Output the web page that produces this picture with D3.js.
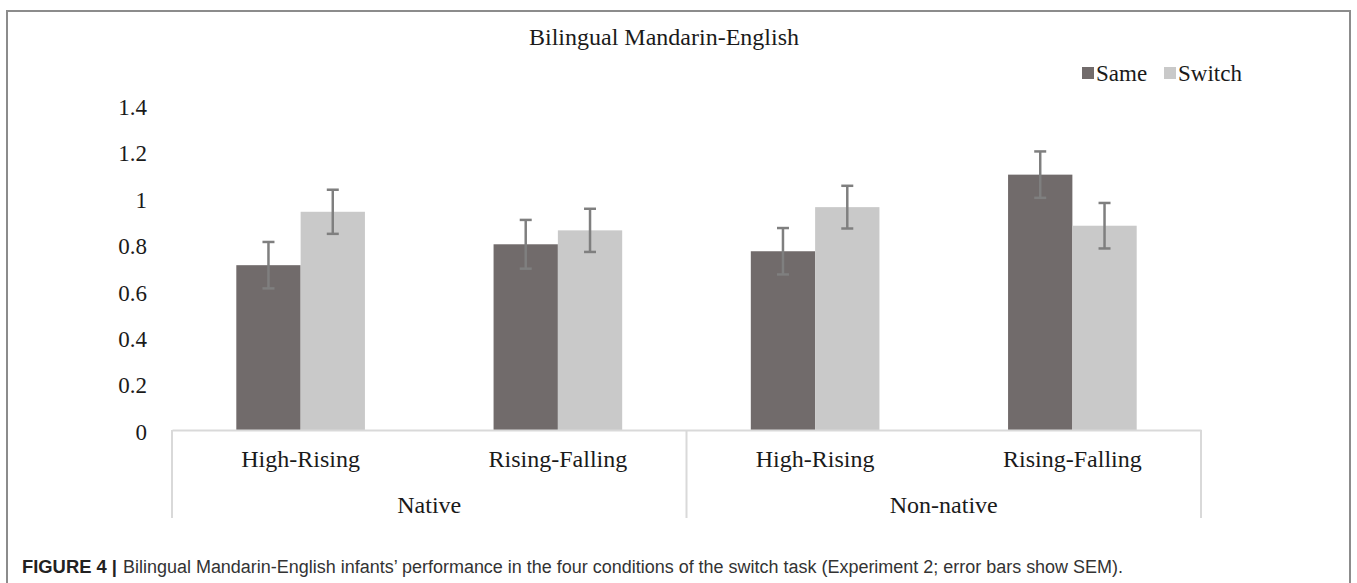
<!DOCTYPE html>
<html>
<head>
<meta charset="utf-8">
<script src="https://cdn.jsdelivr.net/npm/d3@7"></script>
<style>
  body { margin: 0; background: #fff; }
  svg { display: block; }
</style>
</head>
<body>
<div id="chart"></div>
<script>
// values
var groups = ["Native", "Non-native"];
var categories = ["High-Rising", "Rising-Falling", "High-Rising", "Rising-Falling"];
var series = ["Same", "Switch"];
var sameValues = [0.71, 0.80, 0.77, 1.10];
var switchValues = [0.94, 0.86, 0.96, 0.88];
var sameSem = [0.10, 0.105, 0.10, 0.10];
var switchSem = [0.095, 0.093, 0.092, 0.098];
var yTicks = [0, 0.2, 0.4, 0.6, 0.8, 1, 1.2, 1.4];

var width = 1357, height = 583;
var plot = { left: 172, right: 1201, top: 105, bottom: 430 };
var fillColors = ["#716b6b", "#c9c9c9"];
var serif = "'Liberation Serif', 'Times New Roman', serif";

var svg = d3.select("#chart").append("svg")
  .attr("width", width)
  .attr("height", height);

// outer frame (continues past the bottom edge)
svg.append("rect")
  .attr("x", 7).attr("y", 11)
  .attr("width", 1343).attr("height", 620)
  .attr("fill", "none")
  .attr("stroke", "#8c8c8c")
  .attr("stroke-width", 2);

var x0Scale = d3.scaleBand()
  .domain(d3.range(categories.length))
  .range([plot.left, plot.right])
  .paddingInner(0.5)
  .paddingOuter(0.25);

var x1Scale = d3.scaleBand()
  .domain(series)
  .range([0, x0Scale.bandwidth()]);

var groupScale = d3.scaleBand()
  .domain(groups)
  .range([plot.left, plot.right]);

var yScale = d3.scaleLinear()
  .domain([0, 1.4])
  .range([plot.bottom, plot.top]);

var color = d3.scaleOrdinal().domain(series).range(fillColors);

// title
svg.append("text")
  .attr("x", 664).attr("y", 37)
  .attr("dy", "0.35em")
  .attr("text-anchor", "middle")
  .style("font-family", serif)
  .style("font-size", "24px")
  .attr("fill", "#1a1a1a")
  .text("Bilingual Mandarin-English");

// y axis: labels only
var yAxis = d3.axisLeft(yScale)
  .tickValues(yTicks)
  .tickSize(0)
  .tickPadding(0)
  .tickFormat(function(d) { return d3.format("")(+d.toFixed(1)); });

var yG = svg.append("g")
  .attr("transform", "translate(147,2)")
  .call(yAxis);
yG.select(".domain").remove();
yG.selectAll("text")
  .style("font-family", serif)
  .style("font-size", "23px")
  .attr("fill", "#1a1a1a");

// bars
var rows = categories.map(function(c, i) {
  return { i: i, values: [
    { key: "Same", value: sameValues[i], sem: sameSem[i] },
    { key: "Switch", value: switchValues[i], sem: switchSem[i] }
  ] };
});

var cat = svg.selectAll(".cat").data(rows).enter()
  .append("g")
  .attr("class", "cat")
  .attr("transform", function(d) { return "translate(" + x0Scale(d.i) + ",0)"; });

cat.selectAll("rect").data(function(d) { return d.values; })
  .enter().append("rect")
  .attr("x", function(d) { return x1Scale(d.key); })
  .attr("y", function(d) { return yScale(d.value); })
  .attr("width", x1Scale.bandwidth())
  .attr("height", function(d) { return yScale(0) - yScale(d.value); })
  .attr("fill", function(d) { return color(d.key); });

// error bars
var err = cat.selectAll(".err").data(function(d) { return d.values; })
  .enter().append("g")
  .attr("class", "err")
  .attr("stroke", "#7f7f7f")
  .attr("stroke-width", 2.5);

err.append("line")
  .attr("x1", function(d) { return x1Scale(d.key) + x1Scale.bandwidth() / 2; })
  .attr("x2", function(d) { return x1Scale(d.key) + x1Scale.bandwidth() / 2; })
  .attr("y1", function(d) { return yScale(d.value + d.sem); })
  .attr("y2", function(d) { return yScale(d.value - d.sem); });

[1, -1].forEach(function(s) {
  err.append("line")
    .attr("x1", function(d) { return x1Scale(d.key) + x1Scale.bandwidth() / 2 - 6; })
    .attr("x2", function(d) { return x1Scale(d.key) + x1Scale.bandwidth() / 2 + 6; })
    .attr("y1", function(d) { return yScale(d.value + s * d.sem); })
    .attr("y2", function(d) { return yScale(d.value + s * d.sem); });
});

// category axis (two levels)
var xAxis = d3.axisBottom(x0Scale)
  .tickSize(0)
  .tickSizeOuter(0)
  .tickPadding(20)
  .tickFormat(function(i) { return categories[i]; });

var xG = svg.append("g")
  .attr("transform", "translate(0," + plot.bottom + ")")
  .call(xAxis);
xG.select(".domain").attr("stroke", "#d9d9d9").attr("stroke-width", 2);
xG.selectAll("text")
  .style("font-family", serif)
  .style("font-size", "24px")
  .attr("fill", "#1a1a1a");

var seps = groups.map(function(g) { return groupScale(g); }).concat([plot.right]);
svg.selectAll(".sep").data(seps).enter()
  .append("line")
  .attr("class", "sep")
  .attr("x1", function(d) { return d; }).attr("x2", function(d) { return d; })
  .attr("y1", plot.bottom).attr("y2", 518)
  .attr("stroke", "#d9d9d9")
  .attr("stroke-width", 2);

svg.selectAll(".grp").data(groups).enter()
  .append("text")
  .attr("class", "grp")
  .attr("x", function(g) { return groupScale(g) + groupScale.bandwidth() / 2; })
  .attr("y", 505)
  .attr("dy", "0.35em")
  .attr("text-anchor", "middle")
  .style("font-family", serif)
  .style("font-size", "24px")
  .attr("fill", "#1a1a1a")
  .text(function(g) { return g; });

// legend
var legendX = [1082, 1164];
var leg = svg.selectAll(".legend").data(series).enter()
  .append("g")
  .attr("class", "legend")
  .attr("transform", function(d, i) { return "translate(" + legendX[i] + ",73)"; });
leg.append("rect")
  .attr("x", 0).attr("y", -6)
  .attr("width", 12).attr("height", 12)
  .attr("fill", function(d) { return color(d); });
leg.append("text")
  .attr("x", 14).attr("dy", "0.35em")
  .style("font-family", serif)
  .style("font-size", "23px")
  .attr("fill", "#1a1a1a")
  .text(function(d) { return d; });

// caption
var sans = "'Liberation Sans', Arial, sans-serif";
svg.append("text")
  .attr("x", 22).attr("y", 567).attr("dy", "0.35em")
  .attr("textLength", 95).attr("lengthAdjust", "spacingAndGlyphs")
  .style("font-family", sans).style("font-size", "18px").style("font-weight", "bold")
  .attr("fill", "#222")
  .text("FIGURE 4 |");
svg.append("text")
  .attr("x", 123).attr("y", 567).attr("dy", "0.35em")
  .attr("textLength", 1000).attr("lengthAdjust", "spacingAndGlyphs")
  .style("font-family", sans).style("font-size", "18px")
  .attr("fill", "#333")
  .text("Bilingual Mandarin-English infants\u2019 performance in the four conditions of the switch task (Experiment 2; error bars show SEM).");
</script>
</body>
</html>
